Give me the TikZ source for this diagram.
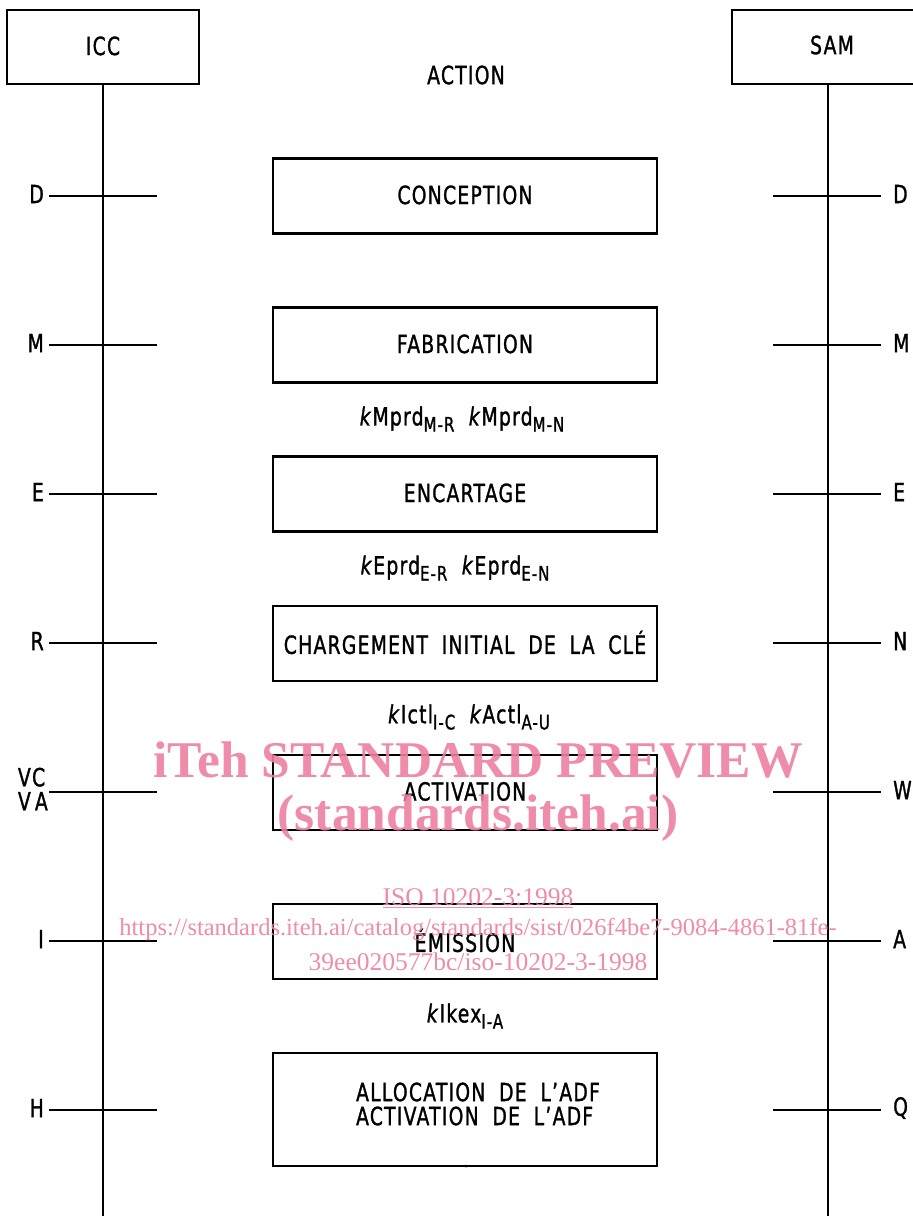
\documentclass[tikz,border=0pt]{standalone}
\usepackage{fontspec}
\setmainfont{DejaVu Sans}[FakeStretch=0.75, FakeBold=1.2, LetterSpace=5]
\newfontfamily\wmfont{Liberation Serif}
\definecolor{wmpink}{RGB}{236,128,160}
\newcommand{\lab}{\fontsize{25}{27}\selectfont}
\newcommand{\subx}[1]{\raisebox{-0.45ex}{\fontsize{20}{20}\selectfont #1}}
\newcommand{\bt}[1]{\raisebox{2.5pt}{#1}}
\newcommand{\ws}{\hspace{0.55em}}
\begin{document}
\begin{tikzpicture}[x=1pt,y=-1pt,
  thick line/.style={line width=2.5pt},
  box/.style={draw, line width=2.5pt, minimum width=384pt, minimum height=75pt, inner sep=0pt, font=\lab, align=center},
  lbl/.style={inner sep=0pt, font=\lab},
  keylbl/.style={inner sep=0pt, font=\lab},
  wm/.style={inner sep=0pt, text=wmpink, opacity=0.9}]
\useasboundingbox (0,0) rectangle (913,1216);
% actor boxes
\node[draw, line width=2.5pt, minimum width=192pt, minimum height=74pt, inner sep=0pt, font=\lab] (icc) at (103,47) {\bt{ICC}};
\draw[thick line] (913,10) -- (732,10) -- (732,84) -- (913,84);
\node[lbl] (sam) at (832,45) {SAM};
\coordinate (samb) at (828,84);
\coordinate (iccend) at (103,1216);
\coordinate (samend) at (828,1216);
\draw[thick line] (icc.south) -- (iccend);
\draw[thick line] (samb) -- (samend);
\node[lbl] (action) at (466,75) {ACTION};
% step boxes
\node[box] (b1) at (465,196) {\bt{CONCEPTION}};
\node[box] (b2) at (465,345) {\bt{FABRICATION}};
\node[box] (b3) at (465,494) {\bt{ENCARTAGE}};
\node[box] (b4) at (465,643.5) {\bt{CHARGEMENT\ws INITIAL\ws DE\ws LA\ws CLÉ}};
\node[box] (b5) at (465,792.5) {\bt{ACTIVATION}};
\node[box] (b6) at (465,941.5) {\bt{ÉMISSION}};
\node[box, minimum height=113pt] (b7) at (465,1109.5) {};
\node[lbl, align=left] (b7t) at (478,1104) {ALLOCATION\ws DE\ws L’ADF\\[-3pt]ACTIVATION\ws DE\ws L’ADF};
% ticks and labels
\foreach \y/\l/\r/\n in {196/D/D/1,345/M/M/2,494/E/E/3,643/R/N/4,792/{}/W/5,941/I/A/6,1110/H/Q/7}{
  \coordinate (ll\n) at (49,\y); \coordinate (lr\n) at (157,\y);
  \coordinate (rl\n) at (773,\y); \coordinate (rr\n) at (881,\y);
  \draw[thick line] (ll\n) -- (lr\n);
  \draw[thick line] (rl\n) -- (rr\n);
  \node[lbl, anchor=east] (L\n) at (44,\y-2) {\l};
  \node[lbl, anchor=west] (R\n) at (893,\y-2) {\r};
}
\node[lbl, align=left, anchor=east] (Lvc) at (48,789) {VC\\[-3pt]V\,A};
% key labels
\node[keylbl] (k1) at (462,419) {\textit{k}Mprd\subx{M-R}\ \ \textit{k}Mprd\subx{M-N}};
\node[keylbl] (k2) at (455,568) {\textit{k}Eprd\subx{E-R}\ \ \textit{k}Eprd\subx{E-N}};
\node[keylbl] (k3) at (469,717) {\textit{k}Ictl\subx{I-C}\ \ \textit{k}Actl\subx{A-U}};
\node[keylbl] (k4) at (465,1016) {\textit{k}Ikex\subx{I-A}};
\fill (466,1166) circle (1.5pt);
% watermark
\node[wm, font=\wmfont\bfseries\fontsize{51.5}{52}\selectfont] (w1) at (478,760) {iTeh STANDARD PREVIEW};
\node[wm, font=\wmfont\bfseries\fontsize{51.5}{52}\selectfont] (w2) at (478,818) {(standards.iteh.ai)};
\node[wm, font=\wmfont\fontsize{25.5}{26}\selectfont] (w3) at (478,898) {\underline{ISO 10202-3:1998}};
\node[wm, font=\wmfont\fontsize{24.5}{25}\selectfont] (w4) at (478,930) {https://standards.iteh.ai/catalog/standards/sist/026f4be7-9084-4861-81fe-};
\node[wm, font=\wmfont\fontsize{25.5}{26}\selectfont] (w5) at (478,962) {39ee020577bc/iso-10202-3-1998};
\end{tikzpicture}
\end{document}
